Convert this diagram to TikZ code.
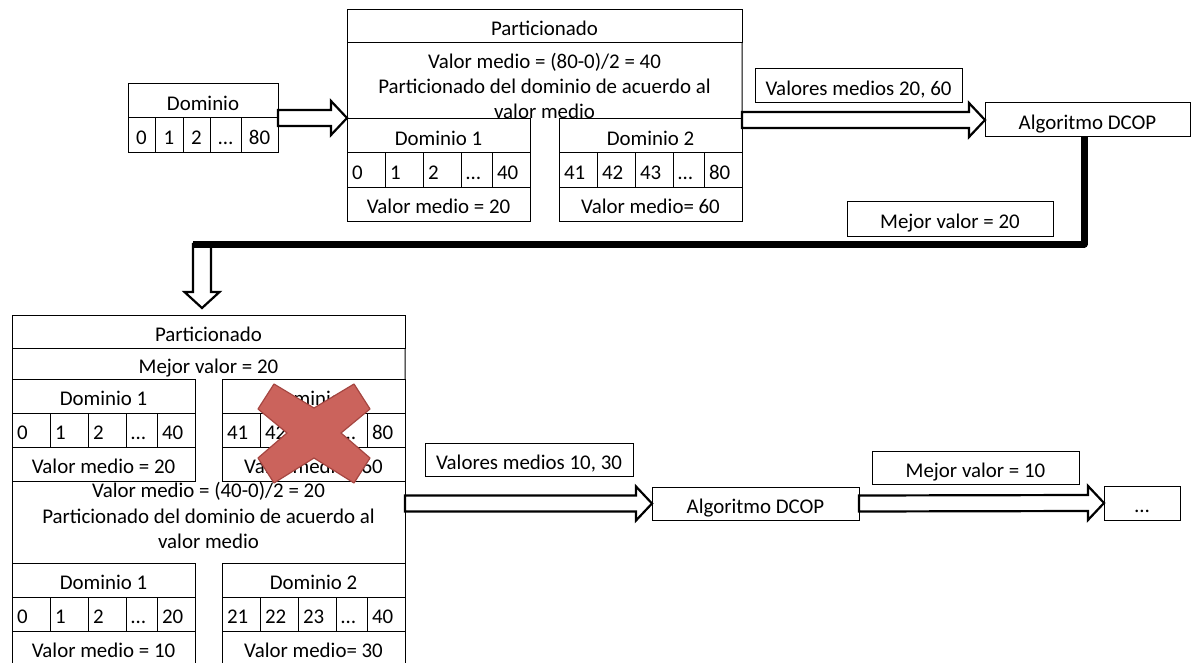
\documentclass[tikz,border=0pt]{standalone}
\usepackage{fontspec}
\setmainfont{Carlito}
\usetikzlibrary{calc}

\newcommand\dfont{\fontsize{20.9bp}{25bp}\selectfont}
\definecolor{xfill}{RGB}{203,99,92}
\definecolor{xline}{RGB}{165,70,65}

\tikzset{
  box/.style n args={2}{draw=black, line width=1bp, inner sep=0pt, outer sep=0pt,
    minimum width=#1bp, minimum height=#2bp, text height=19bp, text depth=0pt,
    anchor=north west, font=\dfont},
  lbox/.style n args={3}{box={#1}{#2}, inner xsep=5bp, text width=#3bp, align=left},
  txt/.style={inner sep=0pt, anchor=base, font=\dfont},
  frame/.style={draw=black, line width=1bp},
  barrow/.style={draw=black, fill=white, line width=2.2bp, line join=miter},
  thick link/.style={draw=black, line width=7bp, line join=round},
  redcross/.style={fill=xfill, draw=xline, line width=1.2bp, line join=round},
}

% one domain: title row, five value cells, middle value row
\newcommand\domblock[9]{%
  \node[box={183}{34}] (#1-t) at (#2,#3) {#4};
  \node[lbox={38}{34}{28}] (#1-c1) at (#1-t.south west) {#5};
  \node[lbox={38}{34}{28}] (#1-c2) at (#1-c1.north east) {#6};
  \node[lbox={38}{34}{28}] (#1-c3) at (#1-c2.north east) {#7};
  \node[lbox={31}{34}{21}] (#1-c4) at (#1-c3.north east) {…};
  \node[lbox={38}{34}{28}] (#1-c5) at (#1-c4.north east) {#8};
  \node[box={183}{34}] (#1-b) at (#1-c1.south west) {#9};
}

% horizontal block arrow from #1 to the tip #2
\newcommand\harrow[2]{%
  \draw[barrow] ($(#1)+(0,-8)$) -- ($(#2)+(-16,-8)$) -- ($(#2)+(-16,-17)$) -- (#2)
    -- ($(#2)+(-16,17)$) -- ($(#2)+(-16,8)$) -- ($(#1)+(0,8)$) -- cycle;
}

\begin{document}
\begin{tikzpicture}[x=1bp, y=-1bp]
\useasboundingbox (0,0) rectangle (1191,663);
\clip (0,0) rectangle (1191,663);

% initial domain
\node[box={150}{34}] (dom) at (128,84) {Dominio};
\node[box={27}{34}] (dom-c1) at (dom.south west) {0};
\node[box={28}{34}] (dom-c2) at (dom-c1.north east) {1};
\node[box={27}{34}] (dom-c3) at (dom-c2.north east) {2};
\node[box={31}{34}] (dom-c4) at (dom-c3.north east) {…};
\node[box={37}{34}] (dom-c5) at (dom-c4.north east) {80};

% first partition
\node[box={395}{33}] (p1-t) at (347,10) {Particionado};
\domblock{d1}{347}{119}{Dominio 1}{0}{1}{2}{40}{Valor medio = 20}
\domblock{d2}{559}{119}{Dominio 2}{41}{42}{43}{80}{Valor medio= 60}
\draw[frame] (p1-t.south west) -- (d1-t.north west);
\draw[frame] (p1-t.south east) -- (d2-t.north east);
\node[txt] (p1-l1) at (544.5,69) {Valor medio = (80-0)/2 = 40};
\node[txt] (p1-l2) at (544.5,94) {Particionado del dominio de acuerdo al};
\node[txt] (p1-l3) at (544.5,118.5) {valor medio};

% first DCOP round
\node[box={207}{34}] (vm1) at (755,69) {Valores medios 20, 60};
\node[box={205}{34}] (alg1) at (985,103) {Algoritmo DCOP};
\node[box={206}{34}] (mv1) at (847,202) {Mejor valor = 20};

% second partition
\node[box={393}{33}] (p2-t) at (12,315) {Particionado};
\node[txt] (p2-best) at (208.5,373) {Mejor valor = 20};
\domblock{d3}{12}{379}{Dominio 1}{0}{1}{2}{40}{Valor medio = 20}
\domblock{d4}{222}{379}{Dominio 2}{41}{42}{43}{80}{Valor medio= 60}
\node[txt] (p2-l1) at (208.5,497) {Valor medio = (40-0)/2 = 20};
\node[txt] (p2-l2) at (208.5,523) {Particionado del dominio de acuerdo al};
\node[txt] (p2-l3) at (208.5,548.5) {valor medio};
\domblock{d5}{12}{563}{Dominio 1}{0}{1}{2}{20}{Valor medio = 10}
\domblock{d6}{222}{563}{Dominio 2}{21}{22}{23}{40}{Valor medio= 30}
\draw[frame] (p2-t.south west) -- (d3-t.north west);
\draw[frame] (p2-t.south east) -- (d4-t.north east);
\draw[frame] (d3-b.south west) -- (d5-t.north west);
\draw[frame] (d4-b.south east) -- (d6-t.north east);

% second DCOP round
\node[box={208}{33}] (vm2) at (425,443) {Valores medios 10, 30};
\node[box={207}{33}] (alg2) at (652,487) {Algoritmo DCOP};
\node[box={207}{33}] (mv2) at (872,451) {Mejor valor = 10};
\node[box={76}{34}] (dots) at (1104,486) {…};

% block arrows
\coordinate (a1s) at (dom-c5.north east);
\coordinate (a1e) at (p1-t.west |- a1s);
\harrow{a1s}{a1e}
\coordinate (a2s) at (alg1.west -| p1-t.east);
\harrow{a2s}{alg1.west}
\coordinate (a3s) at (alg2.west -| p2-t.east);
\harrow{a3s}{alg2.west}
\harrow{alg2.east}{dots.west}

% feedback of the best value down to the next partition
\coordinate (fb-top) at ($(alg1.south)+(-3.5,0)$);
\coordinate (fb-end) at (193,244);
\coordinate (da-top) at (202,244);
\coordinate (da-tip) at (202,308);
\draw[barrow] ($(da-top)+(-9,0)$) -- ($(da-tip)+(-9,-16)$) -- ($(da-tip)+(-17.5,-16)$)
  -- (da-tip) -- ($(da-tip)+(17.5,-16)$) -- ($(da-tip)+(9,-16)$) -- ($(da-top)+(9,0)$) -- cycle;
\draw[thick link] (fb-top) |- (fb-end);

% discarded domain
\coordinate (xc) at (314,433);
\draw[redcross] ($(xc)+(-56,-24)$) -- ($(xc)+(-40,-49)$) -- ($(xc)+(0,-25)$)
  -- ($(xc)+(40,-49)$) -- ($(xc)+(56,-24)$) -- ($(xc)+(27,0)$)
  -- ($(xc)+(56,25)$) -- ($(xc)+(40,50)$) -- ($(xc)+(0,25)$)
  -- ($(xc)+(-40,50)$) -- ($(xc)+(-56,25)$) -- ($(xc)+(-27,0)$) -- cycle;
\end{tikzpicture}
\end{document}
